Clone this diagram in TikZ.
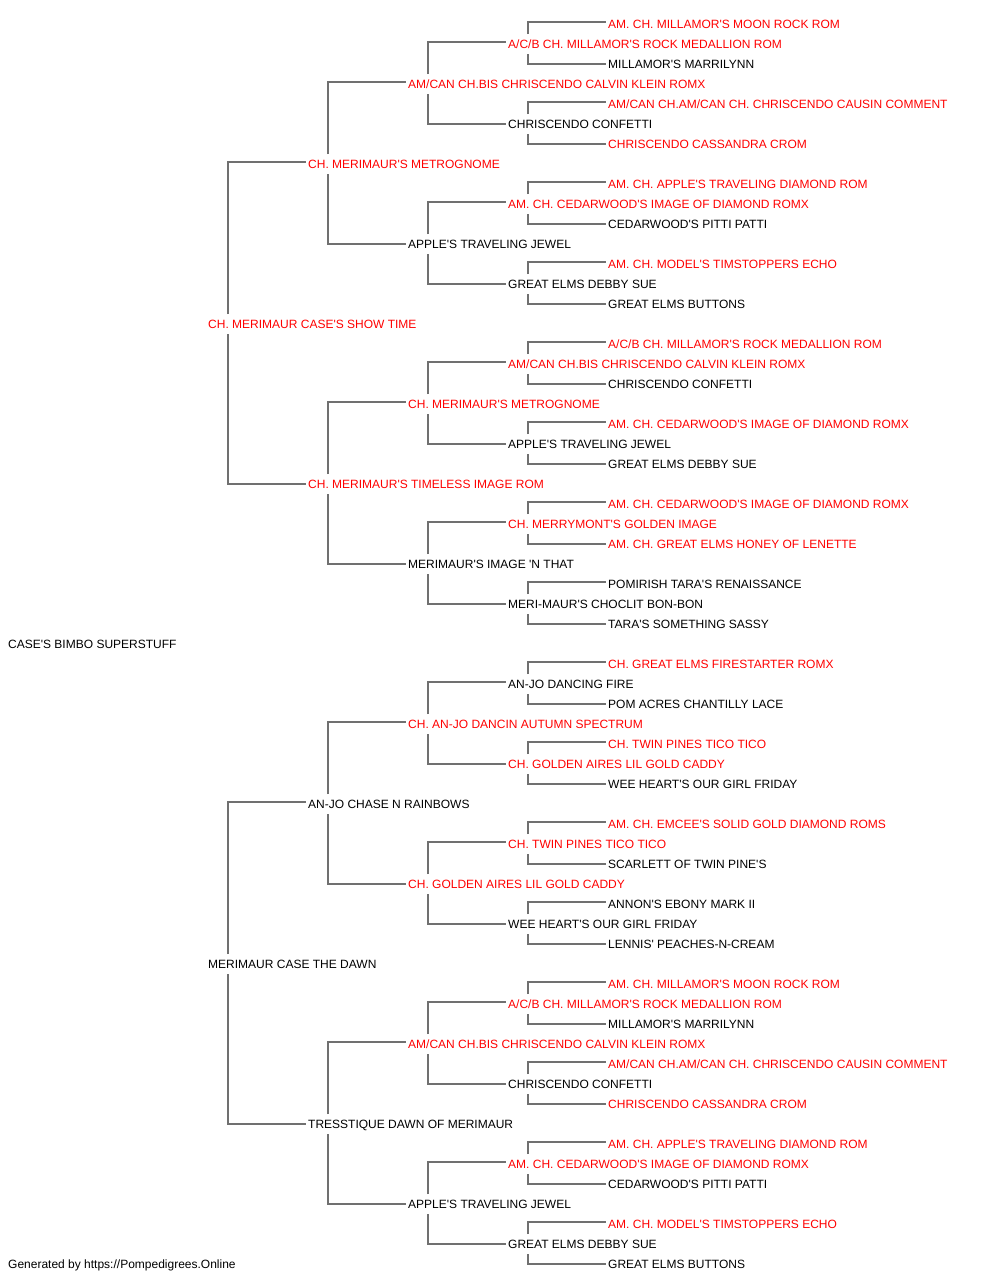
\documentclass[tikz,border=0pt]{standalone}
\usepackage{fontspec}
\newfontfamily\pedfont{Liberation Sans}
\definecolor{pedred}{HTML}{FF0000}
\definecolor{pedline}{HTML}{707070}
\begin{document}
\begin{tikzpicture}[x=1pt,y=-1pt,
  dog/.style={anchor=west,inner sep=0pt,text height=8.6pt,text depth=0pt,font=\pedfont\fontsize{12pt}{14pt}\selectfont},
  nm/.style={dog,text=black},
  rd/.style={dog,text=pedred},
  conn/.style={draw=pedline,line width=2pt}]
\useasboundingbox[fill=white] (0,0) rectangle (1000,1280);
% generation 6 (x=608), 5 (508), 4 (408), 3 (308), 2 (208), 1 (8)
\node[rd] (n0) at (608,24) {AM. CH. MILLAMOR'S MOON ROCK ROM};
\node[rd] (n1) at (508,44) {A/C/B CH. MILLAMOR'S ROCK MEDALLION ROM};
\node[nm] (n2) at (608,64) {MILLAMOR'S MARRILYNN};
\node[rd] (n3) at (408,84) {AM/CAN CH.BIS CHRISCENDO CALVIN KLEIN ROMX};
\node[rd] (n4) at (608,104) {AM/CAN CH.AM/CAN CH. CHRISCENDO CAUSIN COMMENT};
\node[nm] (n5) at (508,124) {CHRISCENDO CONFETTI};
\node[rd] (n6) at (608,144) {CHRISCENDO CASSANDRA CROM};
\node[rd] (n7) at (308,164) {CH. MERIMAUR'S METROGNOME};
\node[rd] (n8) at (608,184) {AM. CH. APPLE'S TRAVELING DIAMOND ROM};
\node[rd] (n9) at (508,204) {AM. CH. CEDARWOOD'S IMAGE OF DIAMOND ROMX};
\node[nm] (n10) at (608,224) {CEDARWOOD'S PITTI PATTI};
\node[nm] (n11) at (408,244) {APPLE'S TRAVELING JEWEL};
\node[rd] (n12) at (608,264) {AM. CH. MODEL'S TIMSTOPPERS ECHO};
\node[nm] (n13) at (508,284) {GREAT ELMS DEBBY SUE};
\node[nm] (n14) at (608,304) {GREAT ELMS BUTTONS};
\node[rd] (n15) at (208,324) {CH. MERIMAUR CASE'S SHOW TIME};
\node[rd] (n16) at (608,344) {A/C/B CH. MILLAMOR'S ROCK MEDALLION ROM};
\node[rd] (n17) at (508,364) {AM/CAN CH.BIS CHRISCENDO CALVIN KLEIN ROMX};
\node[nm] (n18) at (608,384) {CHRISCENDO CONFETTI};
\node[rd] (n19) at (408,404) {CH. MERIMAUR'S METROGNOME};
\node[rd] (n20) at (608,424) {AM. CH. CEDARWOOD'S IMAGE OF DIAMOND ROMX};
\node[nm] (n21) at (508,444) {APPLE'S TRAVELING JEWEL};
\node[nm] (n22) at (608,464) {GREAT ELMS DEBBY SUE};
\node[rd] (n23) at (308,484) {CH. MERIMAUR'S TIMELESS IMAGE ROM};
\node[rd] (n24) at (608,504) {AM. CH. CEDARWOOD'S IMAGE OF DIAMOND ROMX};
\node[rd] (n25) at (508,524) {CH. MERRYMONT'S GOLDEN IMAGE};
\node[rd] (n26) at (608,544) {AM. CH. GREAT ELMS HONEY OF LENETTE};
\node[nm] (n27) at (408,564) {MERIMAUR'S IMAGE 'N THAT};
\node[nm] (n28) at (608,584) {POMIRISH TARA'S RENAISSANCE};
\node[nm] (n29) at (508,604) {MERI-MAUR'S CHOCLIT BON-BON};
\node[nm] (n30) at (608,624) {TARA'S SOMETHING SASSY};
\node[nm] (n31) at (8,644) {CASE'S BIMBO SUPERSTUFF};
\node[rd] (n32) at (608,664) {CH. GREAT ELMS FIRESTARTER ROMX};
\node[nm] (n33) at (508,684) {AN-JO DANCING FIRE};
\node[nm] (n34) at (608,704) {POM ACRES CHANTILLY LACE};
\node[rd] (n35) at (408,724) {CH. AN-JO DANCIN AUTUMN SPECTRUM};
\node[rd] (n36) at (608,744) {CH. TWIN PINES TICO TICO};
\node[rd] (n37) at (508,764) {CH. GOLDEN AIRES LIL GOLD CADDY};
\node[nm] (n38) at (608,784) {WEE HEART'S OUR GIRL FRIDAY};
\node[nm] (n39) at (308,804) {AN-JO CHASE N RAINBOWS};
\node[rd] (n40) at (608,824) {AM. CH. EMCEE'S SOLID GOLD DIAMOND ROMS};
\node[rd] (n41) at (508,844) {CH. TWIN PINES TICO TICO};
\node[nm] (n42) at (608,864) {SCARLETT OF TWIN PINE'S};
\node[rd] (n43) at (408,884) {CH. GOLDEN AIRES LIL GOLD CADDY};
\node[nm] (n44) at (608,904) {ANNON'S EBONY MARK II};
\node[nm] (n45) at (508,924) {WEE HEART'S OUR GIRL FRIDAY};
\node[nm] (n46) at (608,944) {LENNIS' PEACHES-N-CREAM};
\node[nm] (n47) at (208,964) {MERIMAUR CASE THE DAWN};
\node[rd] (n48) at (608,984) {AM. CH. MILLAMOR'S MOON ROCK ROM};
\node[rd] (n49) at (508,1004) {A/C/B CH. MILLAMOR'S ROCK MEDALLION ROM};
\node[nm] (n50) at (608,1024) {MILLAMOR'S MARRILYNN};
\node[rd] (n51) at (408,1044) {AM/CAN CH.BIS CHRISCENDO CALVIN KLEIN ROMX};
\node[rd] (n52) at (608,1064) {AM/CAN CH.AM/CAN CH. CHRISCENDO CAUSIN COMMENT};
\node[nm] (n53) at (508,1084) {CHRISCENDO CONFETTI};
\node[rd] (n54) at (608,1104) {CHRISCENDO CASSANDRA CROM};
\node[nm] (n55) at (308,1124) {TRESSTIQUE DAWN OF MERIMAUR};
\node[rd] (n56) at (608,1144) {AM. CH. APPLE'S TRAVELING DIAMOND ROM};
\node[rd] (n57) at (508,1164) {AM. CH. CEDARWOOD'S IMAGE OF DIAMOND ROMX};
\node[nm] (n58) at (608,1184) {CEDARWOOD'S PITTI PATTI};
\node[nm] (n59) at (408,1204) {APPLE'S TRAVELING JEWEL};
\node[rd] (n60) at (608,1224) {AM. CH. MODEL'S TIMSTOPPERS ECHO};
\node[nm] (n61) at (508,1244) {GREAT ELMS DEBBY SUE};
\node[nm] (n62) at (608,1264) {GREAT ELMS BUTTONS};
\node[nm] (footer) at (8,1264) {Generated by https://Pompedigrees.Online};
% connectors: parent / half-distance to children
\foreach \p/\h in {15/8,47/8,
  7/4,23/4,39/4,55/4,
  3/2,11/2,19/2,27/2,35/2,43/2,51/2,59/2,
  1/1,5/1,9/1,13/1,17/1,21/1,25/1,29/1,33/1,37/1,41/1,45/1,49/1,53/1,57/1,61/1}{
  \pgfmathtruncatemacro\a{\p-\h}
  \pgfmathtruncatemacro\b{\p+\h}
  \draw[conn] ([xshift=20pt,yshift=10pt]n\p.west) |- ([xshift=-2pt,yshift=2.3pt]n\a.west);
  \draw[conn] ([xshift=20pt,yshift=-10pt]n\p.west) |- ([xshift=-2pt,yshift=-0.3pt]n\b.west);
}
\end{tikzpicture}
\end{document}
